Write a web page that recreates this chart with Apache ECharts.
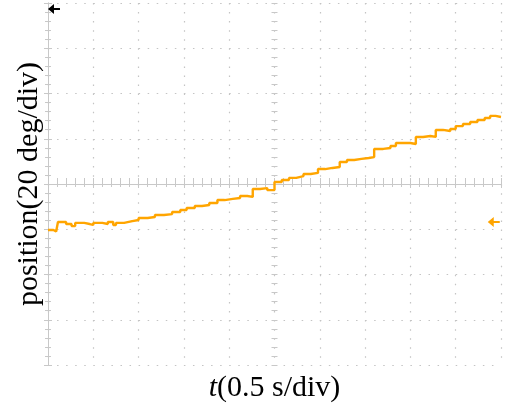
<!DOCTYPE html>
<html>
<head>
<meta charset="utf-8">
<script src="https://cdn.jsdelivr.net/npm/echarts@6/dist/echarts.min.js"></script>
<style>
html,body{margin:0;padding:0;background:#fff}
#chart{width:507px;height:414px}
</style>
</head>
<body>
<div id="chart"></div>
<script>
// time in s (0.5 s/div), position in deg (20 deg/div)
var timeS = [0, 0.06, 0.09, 0.11, 0.2, 0.26, 0.3, 0.4, 0.46, 0.5, 0.6, 0.66, 0.72, 0.75, 0.84, 0.93, 1.0, 1.1, 1.18, 1.28,
  1.37, 1.46, 1.53, 1.62, 1.7, 1.78, 1.87, 1.95, 2.04, 2.12, 2.2, 2.26, 2.34, 2.42, 2.5, 2.58,
  2.66, 2.74, 2.82, 2.9, 2.98, 3.06, 3.14, 3.22, 3.3, 3.38, 3.46, 3.54, 3.6, 3.7, 3.78, 3.84,
  3.92, 4.0, 4.06, 4.14, 4.22, 4.28, 4.36, 4.44, 4.5, 4.58, 4.66, 4.74, 4.82, 4.88, 4.94, 5.0];
var positionDeg = [-20.3, -21, -20.3, -16.8, -17.7, -18.6, -17.2, -17.7, -18.1, -17.2, -17.7, -16.8, -18.1, -17.2, -16.4, -15.9, -15.0, -14.6, -13.7, -13.3,
  -12.4, -11.5, -10.6, -9.7, -9.3, -8.4, -7.1, -6.6, -6.2, -5.3, -5.7, -2.2, -1.8, -2.7, 0.9, 1.8,
  2.7, 3.5, 4.4, 4.9, 6.6, 7.1, 7.5, 9.7, 10.6, 11.1, 11.5, 11.9, 15.5, 15.9, 16.8, 18.1,
  18.1, 17.7, 20.8, 21.2, 20.8, 23.9, 23.4, 24.3, 25.6, 26.5, 27.4, 28.3, 29.2, 30.1, 29.6, 29.6];
// channel ground marker and trigger level marker [t, deg]
var groundMark = [0.066, 77.4];
var triggerMark = [4.92, -16.8];

var traceColor = '#ffa500';
var frameColor = '#c8c8c8';
var font = '"Liberation Serif", "Times New Roman", serif';
var gridW = 453, gridH = 362;

function frameAxis(type, pos, extra) {
  var ax = {
    type: 'value',
    position: pos,
    min: type === 'x' ? 0 : -80,
    max: type === 'x' ? 5 : 80,
    interval: type === 'x' ? 0.5 : 20,
    axisLine: { show: true, lineStyle: { color: frameColor, width: 1 } },
    axisTick: { show: true, inside: true, length: 4, lineStyle: { color: frameColor } },
    minorTick: { show: true, splitNumber: 5, length: 3, lineStyle: { color: frameColor } },
    axisLabel: { show: false },
    splitLine: { show: false }
  };
  for (var k in extra) ax[k] = extra[k];
  return ax;
}

var dotted = { show: true, lineStyle: { color: '#c4c4c4', width: 1.2, type: [1.5, 7.56] } };

var chart = echarts.init(document.getElementById('chart'));
chart.setOption({
  animation: false,
  grid: { left: 48, right: 6, top: 3, bottom: 49 },
  xAxis: [
    frameAxis('x', 'bottom', {
      splitLine: dotted,
      name: '{i|t}(0.5 s/div)',
      nameLocation: 'middle',
      nameGap: 8,
      nameTextStyle: {
        fontFamily: font, fontSize: 30, color: '#000', verticalAlign: 'top',
        rich: { i: { fontFamily: font, fontSize: 30, fontStyle: 'italic', color: '#000' } }
      }
    }),
    frameAxis('x', 'top', {}),
    frameAxis('x', 'bottom', {
      offset: -gridH / 2 + 3,
      axisLine: { show: false },
      axisTick: { show: true, inside: true, length: 6, lineStyle: { color: frameColor } },
      minorTick: { show: true, splitNumber: 5, length: 6, lineStyle: { color: frameColor } }
    })
  ],
  yAxis: [
    frameAxis('y', 'left', {
      splitLine: dotted,
      name: 'position(20 deg/div)',
      nameLocation: 'middle',
      nameGap: 4,
      nameTextStyle: { fontFamily: font, fontSize: 30, color: '#000' }
    }),
    frameAxis('y', 'right', {}),
    frameAxis('y', 'left', {
      offset: -gridW / 2 + 3,
      axisLine: { show: false },
      axisTick: { show: true, inside: true, length: 6, lineStyle: { color: frameColor } },
      minorTick: { show: true, splitNumber: 5, length: 6, lineStyle: { color: frameColor } }
    })
  ],
  series: [{
    type: 'line',
    step: 'end',
    showSymbol: false,
    data: timeS.map(function (t, i) { return [t, positionDeg[i]]; }),
    lineStyle: { color: traceColor, width: 2.4 },
    itemStyle: { color: traceColor },
    markPoint: {
      silent: true,
      symbol: 'path://M0,5 L6,0 L6,4 L12,4 L12,6 L6,6 L6,10 Z',
      symbolSize: [12, 10],
      label: { show: false },
      data: [
        { coord: groundMark, itemStyle: { color: '#000' } },
        { coord: triggerMark, itemStyle: { color: traceColor } }
      ]
    }
  }]
});
</script>
</body>
</html>
